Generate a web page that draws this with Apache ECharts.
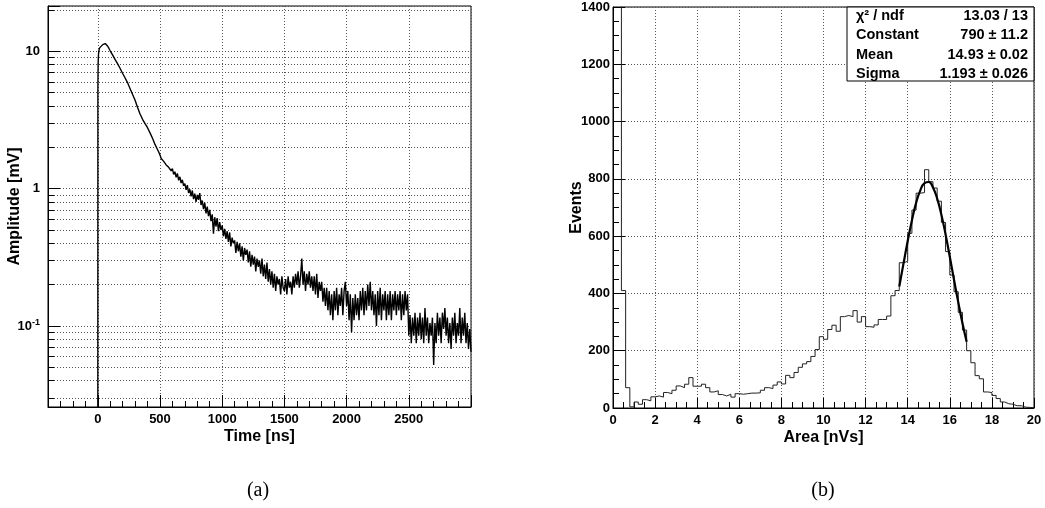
<!DOCTYPE html>
<html><head><meta charset="utf-8">
<script src="https://cdn.jsdelivr.net/npm/echarts@6/dist/echarts.min.js"></script>
<style>html,body{margin:0;padding:0;background:#fff}#c{width:1045px;height:508px}</style>
</head><body><div id="c"></div>
<script>
// ---- (a) waveform ----
const riseTimes = [0, 1, 3, 6, 10, 15, 20, 30, 40, 50, 60, 70, 80, 90, 100, 120, 140, 160, 180, 200, 220, 240, 260, 280, 300, 320, 340, 360, 380, 400, 420, 440, 460, 480, 490];
const riseAmps = [0.001, 5.5, 8.2, 9.6, 10.2, 10.6, 10.7, 10.9, 11.2, 11.4, 11.4, 11.2, 10.9, 10.5, 10.1, 9.4, 8.7, 8.1, 7.5, 6.9, 6.4, 5.9, 5.35, 4.85, 4.4, 3.9, 3.5, 3.2, 2.98, 2.78, 2.55, 2.33, 2.1, 1.93, 1.85];
const tailStart = 500;
const tailStep = 10;
const tailAmps = [
 1.76, 1.66, 1.71, 1.58, 1.60, 1.49, 1.54, 1.43, 1.46, 1.35,
 1.40, 1.27, 1.33, 1.21, 1.29, 1.15, 1.22, 1.10, 1.16, 1.05,
 1.09, 0.98, 1.06, 0.93, 0.99, 0.88, 0.97, 0.84, 0.92, 0.80,
 0.90, 0.83, 0.93, 0.76, 0.82, 0.71, 0.79, 0.66, 0.74, 0.63,
 0.70, 0.58, 0.65, 0.47, 0.62, 0.53, 0.61, 0.49, 0.57, 0.50,
 0.54, 0.45, 0.51, 0.43, 0.49, 0.41, 0.48, 0.38, 0.44, 0.40,
 0.42, 0.34, 0.41, 0.35, 0.40, 0.32, 0.38, 0.30, 0.37, 0.33,
 0.36, 0.29, 0.35, 0.27, 0.33, 0.28, 0.32, 0.25, 0.31, 0.27,
 0.30, 0.24, 0.31, 0.23, 0.28, 0.22, 0.29, 0.21, 0.26, 0.20,
 0.25, 0.19, 0.24, 0.18, 0.23, 0.20, 0.22, 0.17, 0.23, 0.19,
 0.18, 0.22, 0.17, 0.23, 0.19, 0.21, 0.17, 0.23, 0.19, 0.24,
 0.20, 0.25, 0.19, 0.23, 0.31, 0.20, 0.25, 0.18, 0.24, 0.20,
 0.25, 0.19, 0.23, 0.18, 0.23, 0.17, 0.24, 0.16, 0.21, 0.18,
 0.21, 0.15, 0.19, 0.14, 0.19, 0.13, 0.18, 0.12, 0.17, 0.11,
 0.18, 0.13, 0.19, 0.12, 0.17, 0.14, 0.19, 0.12, 0.18, 0.21,
 0.14, 0.18, 0.11, 0.17, 0.09, 0.16, 0.11, 0.17, 0.12, 0.16,
 0.11, 0.18, 0.13, 0.19, 0.12, 0.18, 0.13, 0.20, 0.14, 0.21,
 0.13, 0.18, 0.12, 0.17, 0.10, 0.18, 0.12, 0.19, 0.11, 0.17,
 0.13, 0.18, 0.11, 0.17, 0.12, 0.18, 0.11, 0.17, 0.13, 0.18,
 0.12, 0.17, 0.13, 0.18, 0.11, 0.17, 0.12, 0.18, 0.13, 0.17,
 0.085, 0.12, 0.075, 0.115, 0.085, 0.125, 0.075, 0.115, 0.085, 0.125,
 0.08, 0.115, 0.075, 0.135, 0.085, 0.115, 0.075, 0.105, 0.085, 0.115,
 0.052, 0.105, 0.075, 0.125, 0.085, 0.115, 0.075, 0.125, 0.095, 0.135,
 0.085, 0.115, 0.075, 0.105, 0.068, 0.115, 0.085, 0.125, 0.075, 0.105,
 0.085, 0.135, 0.075, 0.115, 0.085, 0.125, 0.075, 0.105, 0.068, 0.095,
 0.065
];

// ---- (b) area histogram ----
const binLow = 0;
const binWidth = 0.2;
const histCounts = [
 2600, 1900, 410, 71, 4, 21, 13, 29, 25, 39,
 42, 38, 54, 50, 62, 77, 71, 83, 106, 76,
 76, 83, 71, 56, 60, 47, 42, 48, 38, 50,
 48, 50, 52, 52, 53, 62, 71, 68, 80, 91,
 84, 114, 106, 124, 142, 154, 162, 180, 204, 249,
 240, 274, 289, 268, 319, 323, 319, 340, 300, 319,
 284, 282, 290, 309, 309, 321, 392, 410, 507, 512,
 610, 691, 750, 752, 832, 790, 768, 722, 648, 546,
 464, 406, 334, 272, 200, 158, 113, 102, 56, 54,
 44, 33, 21, 15, 13, 8, 8, 3, 2, 1
];
const fitX = [13.6, 13.8, 14.0, 14.2, 14.4, 14.6, 14.8, 15.0, 15.2, 15.4, 15.6, 15.8, 16.0, 16.2, 16.4, 16.6, 16.8];
const fitY = [424, 504, 583, 655, 716, 760, 785, 789, 770, 731, 675, 606, 528, 448, 370, 297, 231];

const statNames = ['χ² / ndf', 'Constant', 'Mean', 'Sigma'];
const statValues = ['13.03 / 13', '790 ± 11.2', '14.93 ± 0.02', '1.193 ± 0.026'];

// ---- build ----
const waveData = riseTimes.map((t, i) => [t, riseAmps[i]])
  .concat(tailAmps.map((a, i) => [tailStart + i * tailStep, a]));
const histData = histCounts.map((c, i) => [binLow + i * binWidth, c]);
histData.push([binLow + histCounts.length * binWidth, histCounts[histCounts.length - 1]]);
const fitData = fitX.map((x, i) => [x, fitY[i]]);

const FONT = '"Liberation Sans", Arial, sans-serif';
const lblStyle = {color: '#000', fontFamily: FONT, fontWeight: 'bold', fontSize: 13};
const nameStyle = {color: '#000', fontFamily: FONT, fontWeight: 'bold', fontSize: 16};
const dotted = {show: true, lineStyle: {color: '#555', type: [1, 2], width: 1}};
const axisLine = {show: true, onZero: false, lineStyle: {color: '#000', width: 1}};

const chart = echarts.init(document.getElementById('c'), null, {renderer: 'canvas'});
chart.setOption({
  animation: false,
  backgroundColor: '#fff',
  grid: [
    {left: 48, top: 6, width: 423, height: 401, show: true, borderColor: '#000', borderWidth: 1, backgroundColor: '#fff', containLabel: false},
    {left: 613, top: 7, width: 421, height: 401, show: true, borderColor: '#000', borderWidth: 1, backgroundColor: '#fff', containLabel: false}
  ],
  xAxis: [
    {gridIndex: 0, type: 'value', min: -400, max: 3000, splitNumber: 7,
     name: 'Time [ns]', nameLocation: 'middle', nameGap: 22, nameMoveOverlap: false, nameTextStyle: nameStyle,
     axisLine: axisLine,
     axisTick: {show: true, inside: true, length: 12, lineStyle: {color: '#000'}},
     minorTick: {show: true, splitNumber: 5, length: 6, lineStyle: {color: '#000'}},
     axisLabel: Object.assign({margin: 6, showMinLabel: false, showMaxLabel: false,
       formatter: v => (v % 500 === 0 ? String(v) : '')}, lblStyle),
     splitLine: dotted},
    {gridIndex: 1, type: 'value', min: 0, max: 20, interval: 2,
     name: 'Area [nVs]', nameLocation: 'middle', nameGap: 22, nameMoveOverlap: false, nameTextStyle: nameStyle,
     axisLine: axisLine,
     axisTick: {show: true, inside: true, length: 10, lineStyle: {color: '#000'}},
     minorTick: {show: true, splitNumber: 4, length: 6, lineStyle: {color: '#000'}},
     axisLabel: Object.assign({margin: 6, formatter: v => String(v)}, lblStyle),
     splitLine: dotted}
  ],
  yAxis: [
    {gridIndex: 0, type: 'log', logBase: 10, min: 0.0257, max: 21.4,
     name: 'Amplitude [mV]', nameLocation: 'middle', nameGap: 25, nameRotate: 90, nameMoveOverlap: false, nameTextStyle: nameStyle,
     axisLine: axisLine,
     axisTick: {show: true, inside: true, length: 12, lineStyle: {color: '#000'}},
     minorTick: {show: true, splitNumber: 9, length: 6, lineStyle: {color: '#000'}},
     minorSplitLine: dotted,
     axisLabel: Object.assign({margin: 8, showMinLabel: false, showMaxLabel: false,
       formatter: v => {
         const l = Math.log10(v);
         if (Math.abs(l - Math.round(l)) > 1e-6) return '';
         const e = Math.round(l);
         if (e === 0) return '1';
         if (e === 1) return '10';
         return '10{sup|' + e + '}';
       },
       rich: {sup: {fontSize: 9, fontWeight: 'bold', fontFamily: FONT, color: '#000', verticalAlign: 'top', padding: [0, 0, 7, 0]}}
     }, lblStyle),
     splitLine: dotted},
    {gridIndex: 1, type: 'value', min: 0, max: 1400, interval: 200,
     name: 'Events', nameLocation: 'middle', nameGap: 28, nameRotate: 90, nameMoveOverlap: false, nameTextStyle: nameStyle,
     axisLine: axisLine,
     axisTick: {show: true, inside: true, length: 12, lineStyle: {color: '#000'}},
     minorTick: {show: true, splitNumber: 4, length: 6, lineStyle: {color: '#000'}},
     axisLabel: Object.assign({margin: 3, formatter: v => String(v)}, lblStyle),
     splitLine: dotted}
  ],
  series: [
    {type: 'line', xAxisIndex: 0, yAxisIndex: 0, data: waveData, showSymbol: false, symbol: 'none',
     clip: true, lineStyle: {color: '#000', width: 1.4}, z: 5},
    {type: 'line', xAxisIndex: 1, yAxisIndex: 1, data: histData, step: 'end', showSymbol: false, symbol: 'none',
     clip: true, lineStyle: {color: '#222', width: 1}, z: 5},
    {type: 'line', xAxisIndex: 1, yAxisIndex: 1, data: fitData, smooth: true, showSymbol: false, symbol: 'none',
     clip: true, lineStyle: {color: '#000', width: 2.2}, z: 6}
  ],
  graphic: [
    {type: 'rect', z: 100, shape: {x: 847, y: 7, width: 187, height: 74},
     style: {fill: '#fff', stroke: '#000', lineWidth: 1}},
    ...statNames.map((n, i) => ({type: 'text', z: 101, x: 856, y: 16 + i * 19.3,
      style: {text: n, fill: '#000', font: 'bold 14.5px ' + FONT, verticalAlign: 'middle'}})),
    ...statValues.map((v, i) => ({type: 'text', z: 101, x: 1028, y: 16 + i * 19.3,
      style: {text: v, fill: '#000', font: 'bold 14.5px ' + FONT, align: 'right', verticalAlign: 'middle'}})),
    {type: 'text', z: 101, x: 258, y: 491, style: {text: '(a)', fill: '#000', font: '20px "Liberation Serif", "Times New Roman", serif', align: 'center', verticalAlign: 'middle'}},
    {type: 'text', z: 101, x: 823, y: 491, style: {text: '(b)', fill: '#000', font: '20px "Liberation Serif", "Times New Roman", serif', align: 'center', verticalAlign: 'middle'}}
  ]
});
</script>
</body></html>
